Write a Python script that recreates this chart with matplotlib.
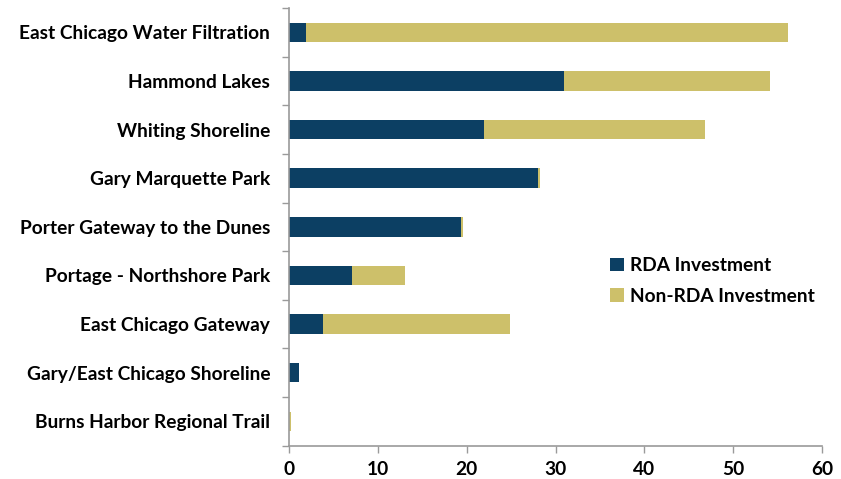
import matplotlib
matplotlib.use("Agg")
import matplotlib.pyplot as plt
import numpy as np

categories = [
    "East Chicago Water Filtration",
    "Hammond Lakes",
    "Whiting Shoreline",
    "Gary Marquette Park",
    "Porter Gateway to the Dunes",
    "Portage - Northshore Park",
    "East Chicago Gateway",
    "Gary/East Chicago Shoreline",
    "Burns Harbor Regional Trail",
]
rda = [1.9, 31.0, 21.9, 28.05, 19.4, 7.1, 3.85, 1.1, 0.05]
non_rda = [54.3, 23.1, 24.9, 0.15, 0.15, 6.0, 21.0, 0.0, 0.2]
xticks = [0, 10, 20, 30, 40, 50, 60]

navy = "#0C3F63"
gold = "#CDC06A"
axis_gray = "#9A9A9A"
font = ["Lato", "DejaVu Sans"]
fs = 13.8

fig = plt.figure(figsize=(8.41, 4.79), dpi=100)
ax = fig.add_axes([289/841, 1-445.7/479, (822-289)/841, (445.7-8)/479])

y = np.arange(len(categories))[::-1]
ax.barh(y, rda, height=0.4, color=navy, label="RDA Investment")
ax.barh(y, non_rda, left=rda, height=0.4, color=gold, label="Non-RDA Investment")

ax.set_xlim(0, 60)
ax.set_ylim(-0.5, len(categories) - 0.5)
ax.set_xticks(xticks)
ax.set_xticklabels([str(t) for t in xticks], fontfamily=font, fontweight="bold", fontsize=fs)
ax.set_yticks(y)
ax.set_yticklabels(categories, fontfamily=font, fontweight="bold", fontsize=fs)
ax.set_yticks(np.arange(-0.5, len(categories), 1.0), minor=True)
ax.tick_params(axis="y", which="major", length=0, pad=13.5)
ax.tick_params(axis="y", which="minor", length=5, width=1, color=axis_gray)
ax.tick_params(axis="x", which="major", length=5, width=1, color=axis_gray, pad=6)

for s in ["top", "right"]:
    ax.spines[s].set_visible(False)
for s in ["left", "bottom"]:
    ax.spines[s].set_color(axis_gray)
    ax.spines[s].set_linewidth(1.2)

leg = ax.legend(loc="upper left", bbox_to_anchor=(593/841, 1-240/479), bbox_transform=fig.transFigure,
                frameon=False, handlelength=0.7, handleheight=0.7, handletextpad=0.35,
                labelspacing=0.7, prop={"family": font, "weight": "bold", "size": fs})

fig.savefig("out.png", dpi=100)
